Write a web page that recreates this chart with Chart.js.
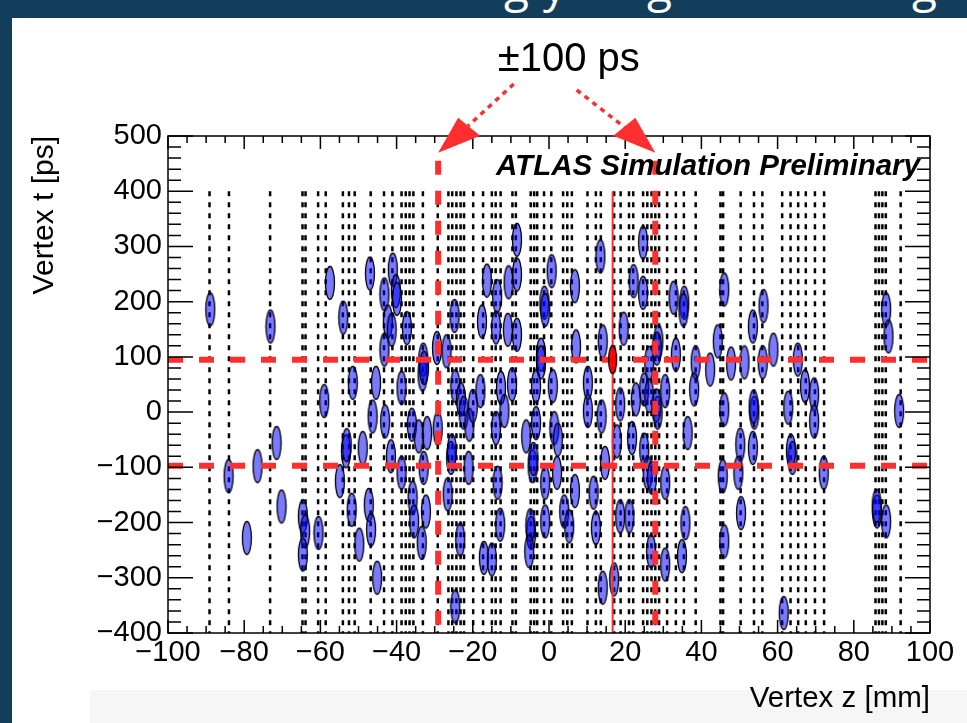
<!DOCTYPE html>
<html>
<head>
<meta charset="utf-8">
<script src="https://cdn.jsdelivr.net/npm/chart.js@4.4.1/dist/chart.umd.min.js"></script>
<style>
  html, body { margin: 0; padding: 0; width: 967px; height: 723px; overflow: hidden; background: #123d5b; }
  .glyph { position: absolute; color: #fff; font: 46px "Open Sans", sans-serif; line-height: 46px; }
  #panel { position: absolute; left: 12px; top: 18px; width: 955px; height: 705px; background: #fff; }
  #foot { position: absolute; left: 90px; top: 690px; width: 877px; height: 33px; background: #f6f6f6; }
  #wrap { position: absolute; left: 0; top: 0; width: 967px; height: 723px; }
</style>
</head>
<body>
<span class="glyph" style="left:504px;top:-39px">g</span>
<span class="glyph" style="left:543px;top:-39px">y</span>
<span class="glyph" style="left:647px;top:-39px">g</span>
<span class="glyph" style="left:912px;top:-39px">g</span>
<div id="panel"></div>
<div id="foot"></div>
<div id="wrap"><canvas id="c" width="967" height="723"></canvas></div>
<script>
// track z positions [mm] (dotted vertical lines)
const trackZ = [-89.1, -84.0, -73.2, -64.7, -63.9, -60.6, -58.6, -54.1, -52.5, -51.0,
  -46.8, -43.3, -41.1, -38.7, -37.6, -36.6, -35.6, -33.1, -29.2, -26.4, -25.4, -24.3,
  -23.2, -22.3, -19.9, -17.3, -15.0, -14.0, -12.7, -9.6, -8.7, -4.8, -3.9, -3.1, -1.3,
  0.6, 3.7, 4.8, 6.0, 10.1, 12.3, 13.6, 17.1, 18.8, 21.0, 22.1, 24.7, 25.8, 26.9, 27.9,
  28.9, 31.0, 33.3, 35.4, 38.5, 45.0, 45.7, 50.3, 53.8, 56.0, 61.2, 63.4, 65.4, 67.4,
  69.8, 72.2, 85.7, 86.6, 87.5, 88.4, 92.3];

// pile-up vertices: z [mm], t [ps]
const vtxZ = [-88.9, -73.1, -57.5, -54.0, -47.0, -43.2, -41.0, -40.2, -39.9, -42.3,
  -41.3, -37.3, -43.2, -33.0, -33.2, -32.8, -29.4, -26.9, -24.8, -17.6,
  -16.3, -13.6, -13.9, -10.6, -10.8, -8.4, -8.4, -8.4, -2.1, -2.1,
  -1.2, -1.0, 0.7, 6.8, 7.1, 13.5, 14.1, 19.6, 22.2, 24.7,
  24.7, 28.7, 28.3, 26.3, 32.7, 35.5, 35.3, 33.3, 38.5, 46.0,
  44.3, 47.8, 42.3, 51.3, 53.5, 56.3, 56.1, 58.9, 65.3, 88.5,
  89.1, -84.1, -79.3, -76.5, -71.5, -70.2, -64.6, -64.0, -64.6, -60.5,
  -59.0, -54.9, -53.3, -53.1, -51.8, -51.5, -49.8, -48.9, -47.3, -46.7,
  -46.3, -45.4, -45.1, -43.0, -41.5, -38.7, -38.7, -36.0, -35.8, -35.4,
  -34.2, -32.3, -32.0, -33.4, -32.9, -29.2, -26.6, -25.7, -25.5, -24.6,
  -23.1, -22.4, -20.9, -20.0, -18.0, -21.1, -23.3, -17.1, -15.0, -24.6,
  -13.9, -13.5, -12.8, -12.6, -11.7, -9.7, -6.0, -4.3, -4.1, -3.4,
  -3.4, -4.7, -4.9, -5.2, -1.0, -1.0, 1.0, 1.4, 2.3, 2.1,
  4.0, 5.3, 6.8, 10.2, 10.2, 11.7, 12.3, 13.8, 14.7, 14.1,
  18.7, 17.8, 18.7, 21.1, 21.8, 22.8, 25.0, 25.0, 26.3, 25.9,
  27.0, 28.5, 28.2, 30.5, 30.5, 26.8, 30.5, 35.8, 34.9, 36.4,
  38.1, 46.0, 45.6, 46.0, 50.2, 49.7, 50.4, 53.9, 53.7, 53.5,
  62.8, 63.9, 63.5, 67.2, 69.6, 69.6, 72.1, 61.6, 86.1, 86.0,
  88.5, 91.9, 17.1];
const vtxT = [186, 155, 234, 171, 251, 213, 258, 219, 205, 164,
  149, 152, 113, 95, 68, 80, 116, 110, 174, 164,
  238, 210, 153, 235, 149, 312, 249, 140, 104, 90,
  198, 185, 255, 228, 119, 282, 128, 151, 237, 307,
  216, 128, 115, 89, 207, 198, 185, 104, 90, 222,
  128, 88, 77, 90, 155, 192, 90, 113, 95, 186,
  137, -116, -228, -98, -56, -171, -189, -216, -258, -219,
  20, -125, -71, -60, -177, 53, -240, -65, -168, -213,
  -8, 53, -300, -17, -80, 44, -110, -23, -155, -198,
  -44, -180, -38, -237, -101, -30, -149, -83, -70, 47,
  23, -1, -23, 11, 38, -101, -231, -264, -267, -352,
  -29, -128, -204, 44, 2, 50, -44, -98, -85, 47,
  -20, -219, -205, -252, -128, -198, 47, -29, -50, -110,
  -180, -207, -143, 2, 53, -146, -210, -8, -92, -318,
  14, -53, -189, -189, -47, 23, 41, -68, 29, -110,
  -119, -1, 12, 38, -128, -252, -276, -201, -261, -38,
  41, 5, -116, -234, -59, -110, -183, -1, 10, -65,
  8, -83, -70, 47, 32, -17, -110, -364, -180, -170,
  -198, 2, -303];

// hard-scatter vertex and the selection window
const hsZ = [16.7];
const hsT = [95];
const windowZ = [-29.1, 27.9];
const windowT = [95, -97];

const VTX_W_MM = 2.4;
const VTX_H_PS = 60;

const BLUE = 'rgba(0, 0, 255, 0.52)';
const RED = '#ff2f2f';
const FONT = '"Liberation Sans", Arial, Helvetica, sans-serif';

const ellipseCache = {};
function ellipseImage(w, h, fill) {
  const key = w + 'x' + h + fill;
  if (!ellipseCache[key]) {
    const c = document.createElement('canvas');
    c.width = w + 3;
    c.height = h + 3;
    const g = c.getContext('2d');
    g.beginPath();
    g.ellipse(c.width / 2, c.height / 2, w / 2, h / 2, 0, 0, Math.PI * 2);
    g.fillStyle = fill;
    g.fill();
    g.lineWidth = 1.3;
    g.strokeStyle = '#000';
    g.stroke();
    ellipseCache[key] = c;
  }
  return ellipseCache[key];
}

function vertexStyle(fill, scale) {
  return ctx => {
    const s = ctx.chart.scales;
    if (!s.x || !s.y) return 'circle';
    const w = Math.round(Math.abs(s.x.getPixelForValue(VTX_W_MM * scale) - s.x.getPixelForValue(0)));
    const h = Math.round(Math.abs(s.y.getPixelForValue(VTX_H_PS * scale) - s.y.getPixelForValue(0)));
    return ellipseImage(w, h, fill);
  };
}

// one line per track, broken by null points
const trackData = [];
trackZ.forEach(z => {
  trackData.push({ x: z, y: 400 }, { x: z, y: -400 }, { x: z, y: null });
});

const vertexData = vtxZ.map((z, i) => ({ x: z, y: vtxT[i] }));
const hsData = hsZ.map((z, i) => ({ x: z, y: hsT[i] }));

function hLine(t) {
  return { type: 'line', data: [{ x: -100, y: t }, { x: 100, y: t }], borderColor: RED,
    borderWidth: 6, borderDash: [15, 16], pointRadius: 0, order: 1 };
}
function vLine(z) {
  return { type: 'line', data: [{ x: z, y: 455 }, { x: z, y: -400 }], borderColor: RED,
    borderWidth: 6, borderDash: [14, 16], pointRadius: 0, order: 1 };
}

const minus = v => String(v).replace('-', '\u2212');

// ROOT-like frame, inside ticks and text annotations
const rootFrame = {
  id: 'rootFrame',
  afterDraw(chart) {
    const { ctx, chartArea: a, scales: { x, y } } = chart;
    ctx.save();
    ctx.strokeStyle = '#000';
    ctx.lineWidth = 1.5;
    ctx.strokeRect(a.left, a.top, a.right - a.left, a.bottom - a.top);
    ctx.beginPath();
    for (let t = -400; t <= 500; t += 20) {
      const py = y.getPixelForValue(t);
      const len = t % 100 === 0 ? 25 : 13;
      ctx.moveTo(a.left, py); ctx.lineTo(a.left + len, py);
      ctx.moveTo(a.right, py); ctx.lineTo(a.right - len, py);
    }
    for (let z = -100; z <= 100; z += 5) {
      const px = x.getPixelForValue(z);
      const len = z % 20 === 0 ? 13 : 7;
      ctx.moveTo(px, a.top); ctx.lineTo(px, a.top + len);
      ctx.moveTo(px, a.bottom); ctx.lineTo(px, a.bottom - len);
    }
    ctx.stroke();

    ctx.fillStyle = '#000';
    ctx.font = 'italic bold 29.5px ' + FONT;
    ctx.textAlign = 'right';
    ctx.textBaseline = 'middle';
    ctx.fillText('ATLAS Simulation Preliminary', a.right - 10, y.getPixelForValue(445));

    // "±100 ps" label with dotted arrows to the window edges
    const lx = (x.getPixelForValue(windowZ[0]) + x.getPixelForValue(windowZ[1])) / 2 + 22;
    ctx.font = '40px ' + FONT;
    ctx.textAlign = 'center';
    ctx.fillText('\u00b1100 ps', lx, 60);

    const tips = windowZ.map(z => [x.getPixelForValue(z), y.getPixelForValue(455) - 8]);
    ctx.strokeStyle = RED;
    ctx.fillStyle = RED;
    ctx.lineWidth = 3.5;
    ctx.setLineDash([5, 5]);
    ctx.beginPath();
    ctx.moveTo(lx - 55, 84); ctx.lineTo(tips[0][0] + 30, tips[0][1] - 27);
    ctx.moveTo(lx + 8, 90); ctx.lineTo(tips[1][0] - 30, tips[1][1] - 25);
    ctx.stroke();
    ctx.setLineDash([]);
    [[tips[0], 1], [tips[1], -1]].forEach(([p, s]) => {
      ctx.beginPath();
      ctx.moveTo(p[0], p[1]);
      ctx.lineTo(p[0] + s * 20, p[1] - 35);
      ctx.lineTo(p[0] + s * 42, p[1] - 17);
      ctx.closePath();
      ctx.fill();
    });
    ctx.restore();
  }
};

new Chart(document.getElementById('c'), {
  type: 'scatter',
  data: {
    datasets: [
      { type: 'scatter', data: hsData, pointStyle: vertexStyle('rgba(255, 0, 0, 0.95)', 0.85), order: 0 },
      hLine(windowT[0]),
      hLine(windowT[1]),
      vLine(windowZ[0]),
      vLine(windowZ[1]),
      { type: 'line', data: [{ x: hsZ[0], y: 400 }, { x: hsZ[0], y: -400 }], borderColor: RED,
        borderWidth: 2, pointRadius: 0, order: 1 },
      { type: 'scatter', data: vertexData, pointStyle: vertexStyle(BLUE, 1), order: 2 },
      { type: 'line', data: trackData, borderColor: '#000', borderWidth: 2.5, borderDash: [5, 6],
        pointRadius: 0, spanGaps: false, order: 3 }
    ]
  },
  options: {
    responsive: false,
    animation: false,
    events: [],
    layout: { padding: { top: 136, right: 37, left: 0, bottom: 0 } },
    plugins: { legend: { display: false }, tooltip: { enabled: false } },
    scales: {
      x: {
        type: 'linear', min: -100, max: 100,
        afterFit: s => { s.height = 90; },
        grid: { display: false, drawTicks: false },
        border: { display: false },
        ticks: { stepSize: 20, padding: 3, color: '#000', font: { family: FONT, size: 29 },
          maxRotation: 0, autoSkip: false, callback: minus },
        title: { display: true, text: 'Vertex z [mm]', align: 'end', color: '#000',
          font: { family: FONT, size: 29.5 }, padding: { top: 0, bottom: 6 } }
      },
      y: {
        type: 'linear', min: -400, max: 500,
        afterFit: s => { s.width = 168; },
        grid: { display: false, drawTicks: false },
        border: { display: false },
        ticks: { stepSize: 100, padding: 6, color: '#000', font: { family: FONT, size: 29 },
          autoSkip: false, callback: minus },
        title: { display: true, text: 'Vertex t [ps]', align: 'end', color: '#000',
          font: { family: FONT, size: 30 }, padding: { top: 27, bottom: 0 } }
      }
    }
  },
  plugins: [rootFrame]
});
</script>
</body>
</html>
